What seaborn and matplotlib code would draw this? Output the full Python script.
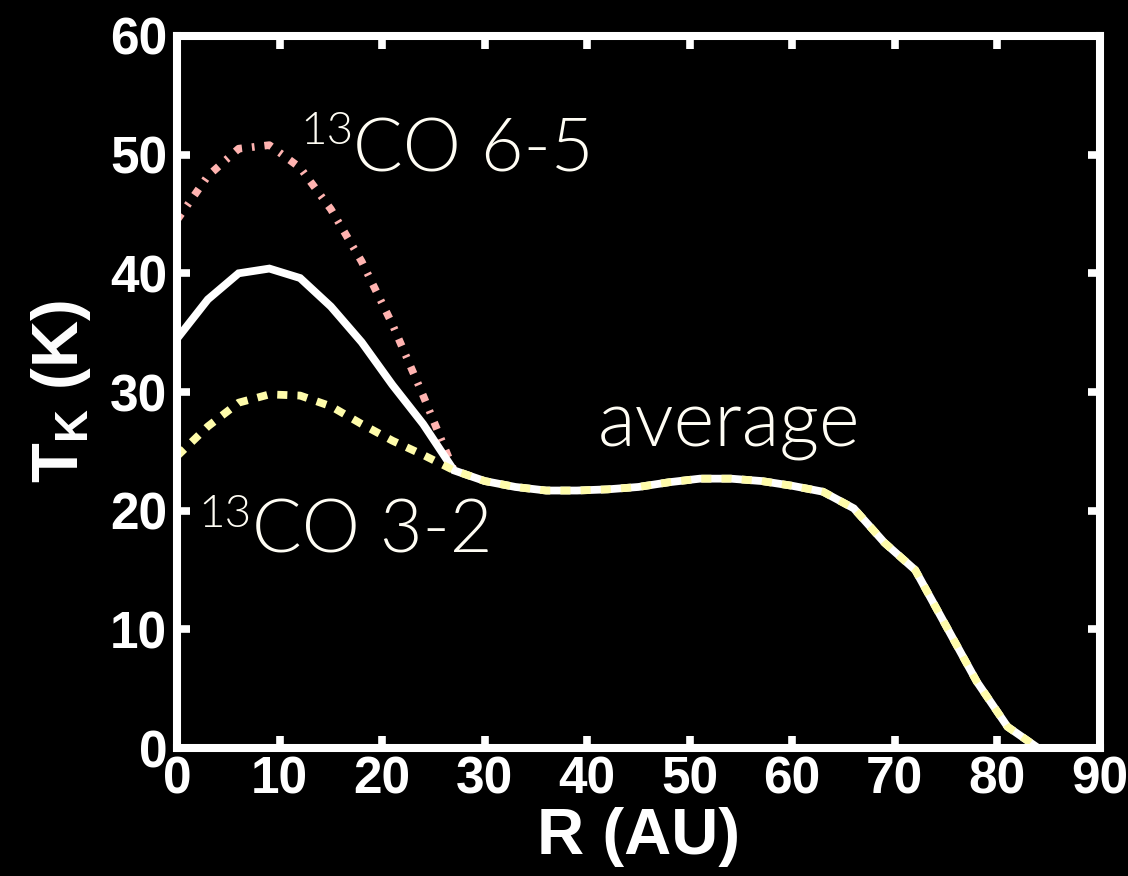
import matplotlib
matplotlib.use("Agg")
import matplotlib.pyplot as plt
import seaborn as sns
import numpy as np

# Radial grid (AU) and gas kinetic temperature profiles (K)
r_au = [0, 3, 6, 9, 12, 15, 18, 21, 24, 27, 30, 33, 36, 39, 42, 45, 48, 51,
        54, 57, 60, 63, 66, 69, 72, 75, 78, 81, 84]
t_average = [34.5, 37.8, 40.0, 40.4, 39.6, 37.2, 34.2, 30.6, 27.3, 23.4,
             22.5, 22.0, 21.7, 21.7, 21.8, 22.0, 22.4, 22.7, 22.7, 22.5,
             22.1, 21.6, 20.2, 17.3, 15.0, 10.3, 5.6, 1.8, 0.0]
t_co32 = [24.6, 27.1, 29.1, 29.8, 29.7, 28.8, 27.3, 25.9, 24.7, 23.4,
          22.5, 22.0, 21.7, 21.7, 21.8, 22.0, 22.4, 22.7, 22.7, 22.5,
          22.1, 21.6, 20.2, 17.3, 15.0, 10.3, 5.6, 1.8, 0.0]
r_co65 = [0, 3, 6, 9, 12, 15, 18, 21, 24, 27]
t_co65 = [44.5, 48.2, 50.5, 50.8, 48.9, 45.4, 41.0, 35.7, 29.7, 23.4]

x_ticks = [0, 10, 20, 30, 40, 50, 60, 70, 80, 90]
y_ticks = [0, 10, 20, 30, 40, 50, 60]

sns.set_theme(style="dark")
tick_font = ["Liberation Sans", "DejaVu Sans"]
plt.rcParams.update({
    "font.family": tick_font,
    "figure.facecolor": "black",
    "axes.facecolor": "black",
    "axes.edgecolor": "white",
    "axes.grid": False,
    "mathtext.fontset": "custom",
    "mathtext.bf": "Liberation Sans:bold",
    "mathtext.rm": "Liberation Sans:bold",
})

fig = plt.figure(figsize=(11.28, 8.76), dpi=100)
ax = fig.add_axes([0.157, 0.146, 0.818, 0.813])

sns.lineplot(x=r_co65, y=t_co65, ax=ax, color="#FFB3B0", lw=5.5,
             linestyle=(0, (1.0, 1.3, 0.35, 1.3)), dash_capstyle="butt")
sns.lineplot(x=r_au, y=t_average, ax=ax, color="white", lw=5.6,
             solid_joinstyle="miter")
sns.lineplot(x=r_au, y=t_co32, ax=ax, color="#FFFCAA", lw=5.6,
             linestyle=(0, (1.3, 1.3)), dash_capstyle="butt")

ax.set_xlim(0, 90)
ax.set_ylim(0, 60)
ax.set_xticks(x_ticks)
ax.set_yticks(y_ticks)
for s in ax.spines.values():
    s.set_linewidth(5.8)
    s.set_color("white")
ax.tick_params(direction="in", length=9, width=5.5, color="white",
               top=True, right=True, bottom=True, left=True,
               labelcolor="white", labelsize=37, pad=5)
ax.tick_params(axis="y", pad=7)
for lab in ax.get_xticklabels() + ax.get_yticklabels():
    lab.set_fontweight("bold")

ax.set_xlabel("R (AU)", fontsize=47, fontweight="bold", color="white",
              labelpad=2)
ax.set_ylabel(r"T$_\mathbf{K}$ (K)", fontsize=47, fontweight="bold",
              color="white", labelpad=12)

label_font = ["Lato", "DejaVu Sans"]
txt = "#FFFDF4"
ax.text(12.0, 50.9, "13", fontsize=33, color=txt, family=label_font,
        fontweight=300, va="baseline", ha="left")
ax.text(17.2, 48.6, "CO 6-5", fontsize=53, color=txt, family=label_font,
        fontweight=300, va="baseline", ha="left")
ax.text(2.1, 18.6, "13", fontsize=33, color=txt, family=label_font,
        fontweight=300, va="baseline", ha="left")
ax.text(7.3, 16.5, "CO 3-2", fontsize=53, color=txt, family=label_font,
        fontweight=300, va="baseline", ha="left")
ax.text(41.0, 25.4, "average", fontsize=56, color=txt, family=label_font,
        fontweight=300, va="baseline", ha="left")

fig.savefig("out.png", dpi=100, facecolor="black")
